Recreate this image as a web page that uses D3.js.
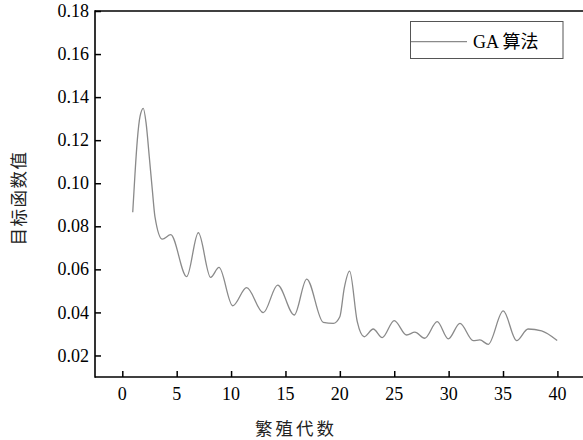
<!DOCTYPE html>
<html>
<head>
<meta charset="utf-8">
<script src="https://cdn.jsdelivr.net/npm/d3@7/dist/d3.min.js"></script>
<style>
  html, body { margin: 0; padding: 0; background: #fff; }
  svg { display: block; }
</style>
</head>
<body>
<svg id="chart" width="583" height="440"></svg>
<script>
// Objective value of the GA run, sampled along the generation axis
const generations = [
  0.96, 1.17, 1.38, 1.63, 1.93, 2.19, 2.48, 2.76, 3.0, 3.68, 4.45, 5.92,
  6.99, 8.12, 8.89, 10.15, 11.43, 12.96, 14.28, 15.81, 16.95, 18.47, 19.4, 20.0,
  20.4, 20.9, 21.6, 22.24, 23.07, 23.9, 25.0, 26.14, 26.9, 27.8, 28.95, 29.97,
  31.04, 32.26, 32.87, 33.64, 35.02, 36.25, 37.3, 38.55, 39.98
];
const objective = [
  0.0865, 0.1046, 0.1200, 0.1310, 0.1348, 0.1278, 0.1123, 0.0969, 0.0845, 0.0740, 0.0761, 0.0566,
  0.0770, 0.0563, 0.0609, 0.0431, 0.0515, 0.0399, 0.0527, 0.0388, 0.0555, 0.0354, 0.0349, 0.0380,
  0.0512, 0.0592, 0.0357, 0.0287, 0.0323, 0.0283, 0.0362, 0.0295, 0.0308, 0.0280, 0.0357, 0.0277,
  0.0349, 0.0269, 0.0272, 0.0252, 0.0407, 0.0269, 0.0323, 0.0314, 0.0269
];
const xTicks = [0, 5, 10, 15, 20, 25, 30, 35, 40];
const yTicks = [0.02, 0.04, 0.06, 0.08, 0.10, 0.12, 0.14, 0.16, 0.18];
const seriesName = "GA 算法";
const xTitle = "繁殖代数";
const yTitle = "目标函数值";

const svg = d3.select("#chart");
const W = 583, H = 440;
const plotLeft = 95, plotTop = 11, plotBottom = 377;

const x = d3.scaleLinear().domain([0, 40]).range([122.3, 557.4]);
const y = d3.scaleLinear().domain([0.01, 0.18]).range([plotBottom, plotTop]);

const serif = "'Liberation Serif', 'Times New Roman', serif";
const cjk = "'Liberation Serif', 'Noto Sans CJK SC', serif";

// Frame: top and bottom lines run to the right edge
svg.append("line").attr("x1", plotLeft).attr("x2", W).attr("y1", plotTop).attr("y2", plotTop)
  .attr("stroke", "#000").attr("stroke-width", 1.6);

// Y axis (ticks pointing inward)
const yAxis = d3.axisRight(y).tickValues(yTicks).tickSize(6).tickFormat("");
const gy = svg.append("g").attr("transform", `translate(${plotLeft},0)`).call(yAxis);
gy.select(".domain").remove();
gy.selectAll(".tick line").attr("stroke", "#000").attr("stroke-width", 1.5);
svg.append("line").attr("x1", plotLeft).attr("x2", plotLeft).attr("y1", plotTop - 0.8).attr("y2", plotBottom + 0.8)
  .attr("stroke", "#000").attr("stroke-width", 1.6);
svg.append("g").selectAll("text").data(yTicks).join("text")
  .attr("x", 89).attr("y", d => y(d)).attr("dy", "0.34em")
  .attr("text-anchor", "end")
  .attr("font-family", serif).attr("font-size", 18).attr("fill", "#000")
  .text(d => d3.format(".2f")(d));

// X axis (ticks pointing inward)
const xAxis = d3.axisTop(x).tickValues(xTicks).tickSize(6).tickFormat("");
const gx = svg.append("g").attr("transform", `translate(0,${plotBottom})`).call(xAxis);
gx.select(".domain").remove();
gx.selectAll(".tick line").attr("stroke", "#000").attr("stroke-width", 1.5);
svg.append("line").attr("x1", plotLeft).attr("x2", W).attr("y1", plotBottom).attr("y2", plotBottom)
  .attr("stroke", "#000").attr("stroke-width", 1.6);
svg.append("g").selectAll("text").data(xTicks).join("text")
  .attr("x", d => x(d)).attr("y", 400)
  .attr("text-anchor", "middle")
  .attr("font-family", serif).attr("font-size", 18).attr("fill", "#000")
  .text(d => d);

// Series line
const pts = generations.map((g, i) => [g, objective[i]]);
const line = d3.line().x(d => x(d[0])).y(d => y(d[1])).curve(d3.curveMonotoneX);
svg.append("path").datum(pts).attr("d", line)
  .attr("fill", "none").attr("stroke", "#8a8a8a").attr("stroke-width", 1.3);

// Legend
const lg = svg.append("g");
lg.append("rect").attr("x", 410.5).attr("y", 21.5).attr("width", 152.5).attr("height", 37)
  .attr("fill", "#fff").attr("stroke", "#555").attr("stroke-width", 1);
lg.append("line").attr("x1", 411).attr("x2", 467).attr("y1", 41.7).attr("y2", 41.7)
  .attr("stroke", "#8a8a8a").attr("stroke-width", 1.3);
lg.append("text").attr("x", 473).attr("y", 48)
  .attr("font-family", cjk).attr("font-size", 18).attr("fill", "#000")
  .text(seriesName);

// Axis titles
svg.append("text").attr("x", 296).attr("y", 435)
  .attr("text-anchor", "middle")
  .attr("font-family", "'Noto Sans CJK SC', sans-serif").attr("font-size", 17.5)
  .attr("letter-spacing", 3).attr("fill", "#222")
  .text(xTitle);
svg.append("text")
  .attr("transform", "translate(25,198) rotate(-90)")
  .attr("text-anchor", "middle")
  .attr("font-family", "'Noto Sans CJK SC', sans-serif").attr("font-size", 17.5)
  .attr("letter-spacing", 1.5).attr("fill", "#222")
  .text(yTitle);
</script>
</body>
</html>
